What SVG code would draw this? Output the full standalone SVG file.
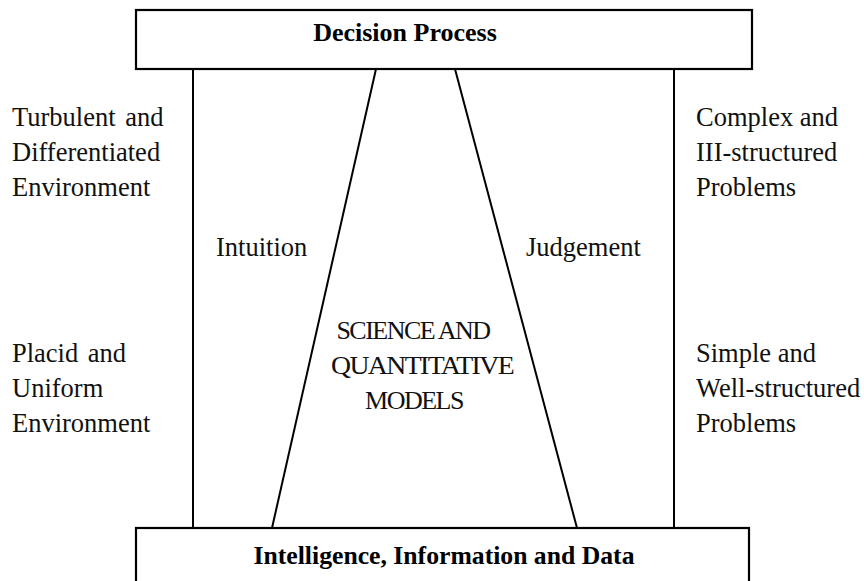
<svg xmlns="http://www.w3.org/2000/svg" width="864" height="581" viewBox="0 0 864 581">
<style>
.box{fill:#fff;stroke:#000;stroke-width:2.2}
.ln{stroke:#000;stroke-width:2;fill:none}
.t{font-family:"Liberation Serif","Times New Roman",serif;font-size:26.5px;fill:#111}
.b{font-family:"Liberation Serif","Times New Roman",serif;font-size:26px;font-weight:bold;fill:#000;text-anchor:middle}
.c{font-family:"Liberation Serif","Times New Roman",serif;font-size:26px;fill:#111;text-anchor:middle;letter-spacing:-1.5px}
</style>
<rect width="864" height="581" fill="#fff"/>
<g id="connectors">
<line class="ln" x1="193" y1="69" x2="193" y2="528"/>
<line class="ln" x1="674" y1="69" x2="674" y2="528"/>
<line class="ln" x1="376" y1="69" x2="272" y2="528"/>
<line class="ln" x1="455" y1="69" x2="577" y2="528"/>
</g>
<g id="decision">
<rect class="box" x="136" y="10" width="616" height="59"/>
<text class="b" x="405" y="41">Decision Process</text>
</g>
<g id="intelligence">
<rect class="box" x="136" y="528" width="613" height="70"/>
<text class="b" x="444" y="564" textLength="381" lengthAdjust="spacingAndGlyphs">Intelligence, Information and Data</text>
</g>
<g id="left-top">
<text class="t" x="12" y="126" word-spacing="3">Turbulent and</text>
<text class="t" x="12" y="161">Differentiated</text>
<text class="t" x="12" y="196">Environment</text>
</g>
<g id="left-bottom">
<text class="t" x="12" y="362" word-spacing="3">Placid and</text>
<text class="t" x="12" y="397">Uniform</text>
<text class="t" x="12" y="432">Environment</text>
</g>
<g id="right-top">
<text class="t" x="696" y="126">Complex and</text>
<text class="t" x="696" y="161">III-structured</text>
<text class="t" x="696" y="196">Problems</text>
</g>
<g id="right-bottom">
<text class="t" x="696" y="362">Simple and</text>
<text class="t" x="696" y="397">Well-structured</text>
<text class="t" x="696" y="432">Problems</text>
</g>
<g id="intuition"><text class="t" x="216" y="256">Intuition</text></g>
<g id="judgement"><text class="t" x="526" y="256">Judgement</text></g>
<g id="science">
<text class="c" x="413" y="339">SCIENCE AND</text>
<text class="c" x="422" y="374" textLength="182" lengthAdjust="spacingAndGlyphs">QUANTITATIVE</text>
<text class="c" x="414" y="409">MODELS</text>
</g>
</svg>
